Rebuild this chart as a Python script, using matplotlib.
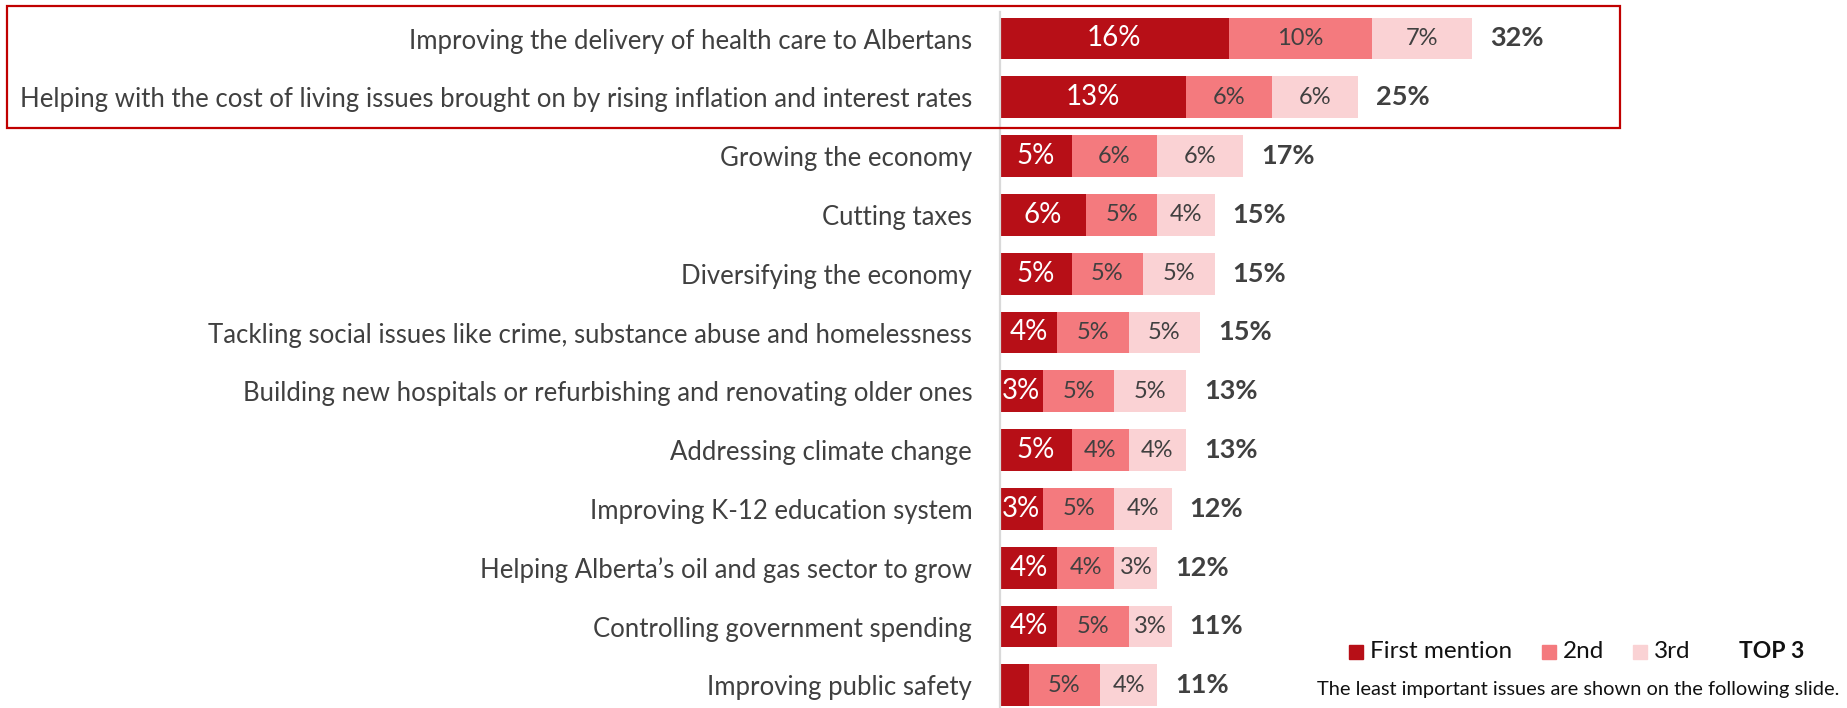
#!/usr/bin/env python3
"""Top-3 priority issues, stacked by mention order."""

import matplotlib

matplotlib.use("Agg")
import matplotlib.patches as mpatches
import matplotlib.pyplot as plt

OUT = "out.png"

ISSUES = [
    "Improving the delivery of health care to Albertans",
    "Helping with the cost of living issues brought on by rising inflation and interest rates",
    "Growing the economy",
    "Cutting taxes",
    "Diversifying the economy",
    "Tackling social issues like crime, substance abuse and homelessness",
    "Building new hospitals or refurbishing and renovating older ones",
    "Addressing climate change",
    "Improving K-12 education system",
    "Helping Alberta\u2019s oil and gas sector to grow",
    "Controlling government spending",
    "Improving public safety",
]
FIRST = [16, 13, 5, 6, 5, 4, 3, 5, 3, 4, 4, 2]
SECOND = [10, 6, 6, 5, 5, 5, 5, 4, 5, 4, 5, 5]
THIRD = [7, 6, 6, 4, 5, 5, 5, 4, 4, 3, 3, 4]
TOP3 = [32, 25, 17, 15, 15, 15, 13, 13, 12, 12, 11, 11]

SERIES_NAMES = ["First mention", "2nd", "3rd"]
FOOTNOTE = "The least important issues are shown on the following slide."

C_FIRST = "#b70f17"
C_SECOND = "#f47a7e"
C_THIRD = "#fad2d4"
C_TEXT = "#404040"
C_BOX = "#c00000"
C_AXIS = "#d9d9d9"

W, H = 1847, 708
FONT = "Lato"


def main():
    plt.rcParams["font.family"] = FONT
    fig = plt.figure(figsize=(W / 100, H / 100), dpi=100)
    ax_left = 1000 / W
    ax = fig.add_axes([ax_left, 0, 1 - ax_left, 1])

    n = len(ISSUES)
    ys = list(range(n))
    left2 = FIRST
    left3 = [a + b for a, b in zip(FIRST, SECOND)]
    ends = [a + b for a, b in zip(left3, THIRD)]

    bh = 0.71
    ax.barh(ys, FIRST, height=bh, color=C_FIRST, zorder=2)
    ax.barh(ys, SECOND, left=left2, height=bh, color=C_SECOND, zorder=2)
    ax.barh(ys, THIRD, left=left3, height=bh, color=C_THIRD, zorder=2)

    for i in ys:
        if FIRST[i] >= 3:
            ax.text(FIRST[i] / 2, i, f"{FIRST[i]}%", ha="center", va="center",
                    fontsize=20, color="white")
        ax.text(left2[i] + SECOND[i] / 2, i, f"{SECOND[i]}%", ha="center",
                va="center", fontsize=17, color=C_TEXT)
        ax.text(left3[i] + THIRD[i] / 2, i, f"{THIRD[i]}%", ha="center",
                va="center", fontsize=17, color=C_TEXT)
        ax.annotate(f"{TOP3[i]}%", (ends[i], i), xytext=(13, 0),
                    textcoords="offset points", ha="left", va="center",
                    fontsize=19.5, fontweight="bold", color=C_TEXT)

    # axis: 1% ~ 14.3 px, rows ~58.8 px apart
    ax.set_xlim(0, (W - 1000) / 14.3)
    y_top = -38.5 / 58.8
    y_bot = (n - 1) + (H - 685.3) / 58.8
    ax.set_ylim(y_bot, y_top)

    ax.set_yticks(ys)
    ax.set_yticklabels(ISSUES, fontsize=18.5, color=C_TEXT)
    ax.tick_params(axis="y", length=0, pad=20)
    ax.set_xticks([])
    for side in ["top", "right", "bottom"]:
        ax.spines[side].set_visible(False)
    ax.spines["left"].set_color(C_AXIS)
    ax.spines["left"].set_linewidth(1.6)
    ax.spines["left"].set_bounds(y_bot, y_top + 12 / 58.8)
    ax.patch.set_visible(False)

    # box around the two leading issues
    fig.patches.append(mpatches.Rectangle(
        (7 / W, 1 - 128 / H), (1620 - 7) / W, (128 - 6) / H,
        transform=fig.transFigure, fill=False, edgecolor=C_BOX, linewidth=1.6,
        zorder=5))

    # legend row
    ly = 1 - 652 / H
    sq = 14
    for x, name, col in zip([1349, 1542, 1633], SERIES_NAMES,
                            [C_FIRST, C_SECOND, C_THIRD]):
        fig.patches.append(mpatches.Rectangle(
            (x / W, ly - sq / 2 / H), sq / W, sq / H,
            transform=fig.transFigure, color=col))
        fig.text((x + sq + 7) / W, ly, name, ha="left", va="center",
                 fontsize=17.5, color="#111111")
    fig.text(1739 / W, ly, "TOP 3", ha="left", va="center", fontsize=16.5,
             fontweight="bold", color="#111111")
    fig.text(1317 / W, 1 - 690 / H, FOOTNOTE, ha="left", va="center",
             fontsize=14.4, color="#111111")

    fig.savefig(OUT, dpi=100)
    plt.close(fig)


if __name__ == "__main__":
    main()
